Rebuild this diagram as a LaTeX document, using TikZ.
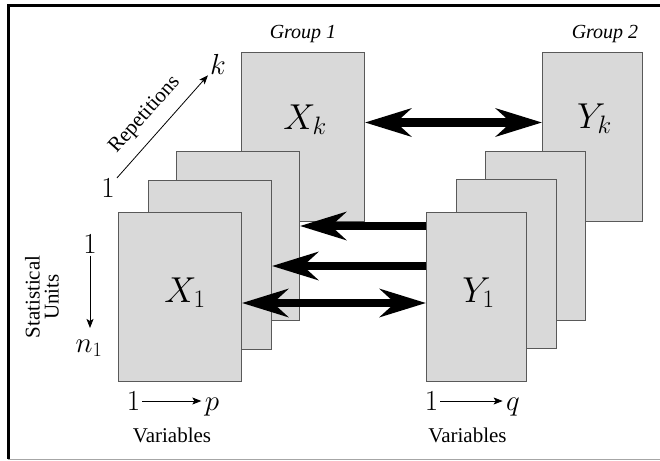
\RequirePackage{fix-cm}
\documentclass[tikz,border=0pt]{standalone}
\usepackage{fontspec}
\setmainfont{Liberation Serif}
\usetikzlibrary{arrows.meta,positioning,calc}

\begin{document}
\begin{tikzpicture}[
    x=1pt, y=-1pt,
    every node/.style={font=\rmfamily\fontsize{21}{19}\selectfont},
    matbox/.style={draw=black!65, line width=1pt, fill=black!15, anchor=north west, inner sep=0pt},
    xbox/.style={matbox, minimum width=123pt, minimum height=169pt},
    ybox/.style={matbox, minimum width=100pt, minimum height=169pt},
    bigname/.style={font=\fontsize{36}{40}\selectfont, anchor=base, inner sep=0pt},
    axnum/.style={font=\fontsize{29}{32}\selectfont},
    grouplab/.style={font=\rmfamily\fontsize{20}{24}\selectfont\itshape, anchor=base},
    linkarrow/.style={line width=8.5pt, -{Stealth[length=46pt, width=28pt, inset=15pt]}},
    linkboth/.style={line width=8.5pt, {Stealth[length=46pt, width=28pt, inset=15pt]}-{Stealth[length=46pt, width=28pt, inset=15pt]}},
    axarrow/.style={line width=0.8pt, -{Stealth[length=9pt, width=7pt, inset=2pt]}}
]
\useasboundingbox (0,0) rectangle (660,460);

% frame
\draw[line width=3pt] (8.3,459) -- (8.3,5.7) -- (660,5.7);
\draw[black!35, line width=1pt] (8.3,459) -- (660,459);

% Group 1: stack of X matrices
\node[grouplab] (g1) at (303,38) {Group 1};
\node[xbox] (xk) at (241,52) {};
\foreach \nm/\x/\y in {xs3/176/151, xs2/148/180, x1/118/212} {
    \node[xbox] (\nm) at (\x,\y) {};
}
\node[bigname] (xklab) at ([xshift=2pt, yshift=7.5pt]xk.center) {$X_k$};
\node[bigname] (x1lab) at ([xshift=5pt, yshift=-5.5pt]x1.center) {$X_1$};

% Group 2: stack of Y matrices
\node[grouplab] (g2) at (605,38) {Group 2};
\node[ybox] (yk) at (542,52) {};
\foreach \nm/\x/\y in {ys3/485/151, ys2/456/179, y1/426/212} {
    \node[ybox] (\nm) at (\x,\y) {};
}
\node[bigname] (yklab) at ([xshift=2pt, yshift=8.5pt]yk.center) {$Y_k$};
\node[bigname] (y1lab) at ([xshift=2pt, yshift=-5.5pt]y1.center) {$Y_1$};

% links between the groups
\draw[linkboth] ([yshift=14.5pt]xk.east) -- ([yshift=14.5pt]yk.west);
\coordinate (a1) at ([yshift=-14pt]y1.north west);
\coordinate (a2) at ([yshift=-54pt]y1.north west);
\draw[linkarrow] (a1) -- (a1 -| xs3.east);
\draw[linkarrow] (a2) -- (a2 -| xs2.east);
\draw[linkboth] ([yshift=-6pt]x1.east) -- ([yshift=-6pt]y1.west);

% repetitions
\node[axnum, inner sep=2pt] (rep1) at (108,188) {$1$};
\node[axnum, inner sep=2pt] (repk) at (218,64) {$k$};
\draw[axarrow] (rep1) -- node[sloped, above=8pt, pos=0.48] {Repetitions} (repk);

% statistical units
\node[rotate=90, align=center] (units) at (42,297) {Statistical\\Units};
\node[axnum, inner sep=2pt] (su1) at (90,244) {$1$};
\node[axnum, anchor=base] (sun) at (89,352) {$n_1$};
\draw[axarrow] (su1.south) -- ([yshift=8pt]su1.south |- sun.north);

% variables
\node[axnum, inner sep=2pt] (vp1) at (133.5,401) {$1$};
\node[axnum, anchor=base] (vpp) at (212,410) {$p$};
\draw[axarrow] (vp1.east) -- (vp1.east -| vpp.west);
\node[anchor=base] (varx) at (172,442) {Variables};

\node[axnum, inner sep=2pt] (vq1) at (431.5,401) {$1$};
\node[axnum, anchor=base] (vqq) at (513,410) {$q$};
\draw[axarrow] (vq1.east) -- (vq1.east -| vqq.west);
\node[anchor=base] (vary) at (467.5,442) {Variables};

\end{tikzpicture}
\end{document}
